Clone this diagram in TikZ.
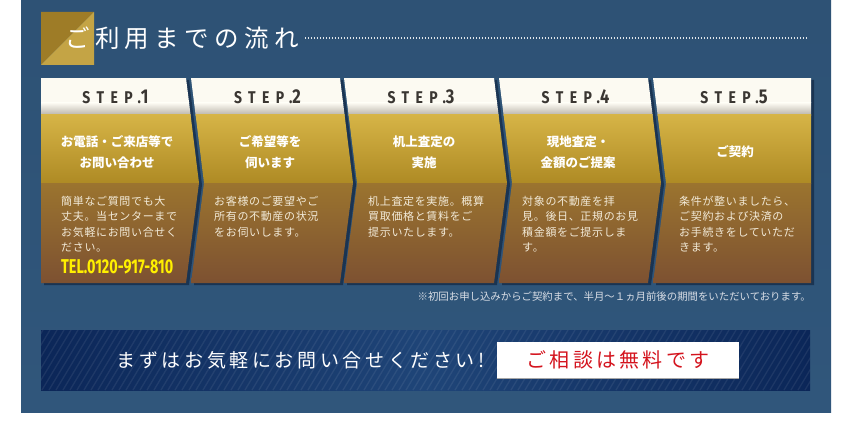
\documentclass[tikz,border=0pt]{standalone}
\usepackage{fontspec}
\usepackage{xcolor}
\usetikzlibrary{calc,positioning}
\newfontfamily\jpfont{Noto Sans CJK JP}
\newfontfamily\bodyfont[LetterSpace=6]{Noto Sans CJK JP}
\newfontfamily\titlefont[LetterSpace=22]{Noto Sans CJK JP}
\newfontfamily\askfont[LetterSpace=19]{Noto Sans CJK JP}
\newfontfamily\freefont[LetterSpace=16]{Noto Sans CJK JP}
\newfontfamily\stepfont[LetterSpace=38,FakeStretch=0.82]{Fira Sans}
\newfontfamily\digitfont[FakeStretch=0.82]{Fira Sans}
\newfontfamily\telfont[FakeStretch=0.72]{Fira Sans}
\definecolor{panelblue}{HTML}{30567B}
\definecolor{gapblue}{HTML}{172F4C}
\definecolor{headcream}{HTML}{FCFAF2}
\definecolor{headgray}{HTML}{B7B1A6}
\definecolor{goldtop}{HTML}{D6B446}
\definecolor{goldbot}{HTML}{AE8A24}
\definecolor{browntop}{HTML}{9B742F}
\definecolor{brownbot}{HTML}{7D5131}
\definecolor{bodycol}{HTML}{F2EAD8}
\definecolor{telyellow}{HTML}{FFF000}
\definecolor{stepcol}{HTML}{3A3632}
\definecolor{navyedge}{HTML}{0B2658}
\definecolor{navymid}{HTML}{1F4578}
\definecolor{freered}{HTML}{D4141E}
\definecolor{squaredark}{HTML}{9E7C27}
\definecolor{squarelight}{HTML}{C4A445}
\definecolor{notecol}{HTML}{D9DEE6}
\newcommand\StepOutline[4]{
  (#1,78) -- (#2,78) -- (#2+#4,183) -- (#2,283) -- (#1,283) -- (#1+#3,183) -- cycle
}

\begin{document}
\begin{tikzpicture}[x=1pt,y=-1pt,
  steplabel/.style={inner sep=0,text=stepcol,anchor=base},
  headtext/.style={inner sep=0,text=white,align=center,
    font=\jpfont\bfseries\fontsize{12.5}{21}\selectfont},
  bodytext/.style={inner sep=0,text=bodycol,align=left,anchor=north west,
    font=\bodyfont\fontsize{11}{15.3}\selectfont},
  dotline/.style={white!85!panelblue,line width=1.2pt,dash pattern=on 1.2pt off 1.8pt},
  stripe/.style={white,opacity=0.07,line width=1.3pt}]

	\useasboundingbox (0,0) rectangle (850,422);
	\fill[white] (0,0) rectangle (850,422);

	% the panel
	\shade[top color=panelblue!95!black,bottom color=panelblue] (21,0) rectangle (831,412);

	% the title
	\fill[squaredark] (41,12) -- (94,12) -- (41,65) -- cycle;
	\fill[squarelight] (94,12) -- (94,65) -- (41,65) -- cycle;
	\node[inner sep=0,anchor=west,text=white,font=\titlefont\fontsize{24.5}{24.5}\selectfont]
	  (title) at (65,38) {ご利用までの流れ};
	\coordinate (dotend) at (808,38);
	\draw[dotline] ([xshift=6pt]title.east) -- (dotend);

	% the steps
	\foreach \n/\l/\r/\lt/\rt in {1/41/186/0/13,2/191/340/13/13,3/344/494/13/13,4/499/648/13/13,5/653/811/13/0}{
	  \fill[gapblue,opacity=0.85,shift={(3,2)}] \StepOutline{\l}{\r}{\lt}{\rt};
	  \begin{scope}
	    \clip \StepOutline{\l}{\r}{\lt}{\rt};
	    \fill[headcream] (\l,78) rectangle (\r+13,103);
	    \shade[top color=headcream,bottom color=headgray] (\l,103) rectangle (\r+13,115.5);
	    \shade[top color=goldtop,bottom color=goldbot] (\l,115) rectangle (\r+13,183.5);
	    \shade[top color=browntop,bottom color=brownbot] (\l,183) rectangle (\r+13,283);
	  \end{scope}
	  \node[steplabel] (step\n) at ({(\l+\r)/2+2},104)
	    {\stepfont\bfseries\fontsize{17}{17}\selectfont STEP.\digitfont\fontsize{20}{20}\selectfont\n};
	}

	% the texts of the steps
	\foreach \n/\x/\head/\body in {
	  1/117/{お電話・ご来店等で\\お問い合わせ}/{簡単なご質問でも大\\丈夫。当センターまで\\お気軽にお問い合せく\\ださい。},
	  2/270/{ご希望等を\\伺います}/{お客様のご要望やご\\所有の不動産の状況\\をお伺いします。},
	  3/424/{机上査定の\\実施}/{机上査定を実施。概算\\買取価格と賃料をご\\提示いたします。},
	  4/578/{現地査定・\\金額のご提案}/{対象の不動産を拝\\見。後日、正規のお見\\積金額をご提示しま\\す。},
	  5/735/{ご契約}/{条件が整いましたら、\\ご契約および決済の\\お手続きをしていただ\\きます。}}{
	  \node[headtext] (head\n) at (\x,152) {\head};
	  \node[bodytext] (body\n) at (\x-56,196) {\body};
	}
	\node[inner sep=0,anchor=base west,text=telyellow,font=\telfont\bfseries\fontsize{20}{20}\selectfont]
	  (tel) at (61,273) {TEL.0120-917-810};

	% the note
	\node[inner sep=0,anchor=east,text=notecol,font=\jpfont\fontsize{10.4}{10.4}\selectfont]
	  (note) at (811,297) {※初回お申し込みからご契約まで、半月～１ヵ月前後の期間をいただいております。};

	% the banner
	\shade[left color=navyedge,right color=navyedge,middle color=navymid] (41,330) rectangle (810,390);
	\begin{scope}
	  \clip (41,330) rectangle (810,390);
	  \foreach \s in {0,7,...,840}
	    \draw[stripe] (\s,390) -- (\s+36,330);
	\end{scope}
	\fill[black!35] (497,343) rectangle (739,379);
	\node[fill=white,minimum width=242pt,minimum height=36pt,inner sep=0,text=freered,
	  font=\freefont\fontsize{20}{20}\selectfont] (free) at (618,360) {ご相談は無料です};
	\node[inner sep=0,anchor=east,left=12pt of free,text=white,
	  font=\askfont\fontsize{19}{19}\selectfont] (ask) {まずはお気軽にお問い合せください!};
\end{tikzpicture}
\end{document}
